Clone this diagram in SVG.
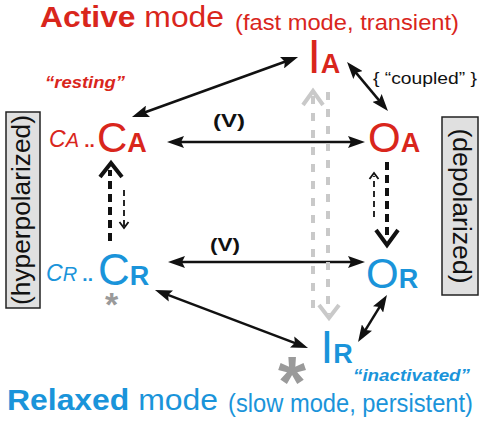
<svg xmlns="http://www.w3.org/2000/svg" width="490" height="423" viewBox="0 0 490 423">
<defs>
<style>
text{font-family:"Liberation Sans",Arial,sans-serif;}
.red{fill:#d9261c;}
.blue{fill:#1a94da;}
.big{font-size:42px;}
.bigI{font-size:48px;}
.sub{font-size:27px;font-weight:bold;}
.pre{font-style:italic;}
.conn{stroke:#111;stroke-width:2.5;fill:none;}
.thick{stroke:#111;stroke-width:4;fill:none;stroke-dasharray:8 5;}
.thin{stroke:#111;stroke-width:1.8;fill:none;stroke-dasharray:6 4;}
.chev{stroke:#111;fill:none;stroke-linejoin:miter;}
.gray{stroke:#c9c9c9;stroke-width:4;fill:none;stroke-dasharray:8 9;}
.graychev{stroke:#c9c9c9;stroke-width:4;fill:none;}
.box{fill:#e0e0e0;stroke:#222;stroke-width:1.5;}
.ast{fill:#9a9a9a;font-weight:bold;}
</style>
<marker id="ah" viewBox="0 0 17 12" markerWidth="17" markerHeight="12" refX="11" refY="6" markerUnits="userSpaceOnUse" orient="auto-start-reverse">
<path d="M0,0 L17,6 L0,12 L3,6 z" fill="#111"/>
</marker>
</defs>

<g id="title-active">
<text x="40" y="27" class="red" font-size="29" textLength="184" lengthAdjust="spacingAndGlyphs"><tspan font-weight="bold">Active</tspan> mode</text>
<text x="235" y="30" class="red" font-size="22" textLength="224" lengthAdjust="spacingAndGlyphs">(fast mode, transient)</text>
</g>
<g id="title-relaxed">
<text x="7" y="410" class="blue" font-size="30" textLength="211" lengthAdjust="spacingAndGlyphs"><tspan font-weight="bold">Relaxed</tspan> mode</text>
<text x="228" y="412" class="blue" font-size="25" textLength="245" lengthAdjust="spacingAndGlyphs">(slow mode, persistent)</text>
</g>

<g id="box-hyper">
<rect class="box" x="6" y="112" width="34" height="196"/>
<text transform="translate(30,210) rotate(-90)" text-anchor="middle" font-size="25" fill="#111" textLength="190" lengthAdjust="spacingAndGlyphs">(hyperpolarized)</text>
</g>
<g id="box-depol">
<rect class="box" x="442" y="117" width="36" height="178"/>
<text transform="translate(453,206) rotate(90)" text-anchor="middle" font-size="25" fill="#111" textLength="155" lengthAdjust="spacingAndGlyphs">(depolarized)</text>
</g>

<g id="connectors">
<line class="conn" x1="137.6" y1="115" x2="292.4" y2="59" marker-start="url(#ah)" marker-end="url(#ah)"/>
<line class="conn" x1="350.9" y1="66.6" x2="384.1" y2="106.4" marker-start="url(#ah)" marker-end="url(#ah)"/>
<line class="conn" x1="173" y1="142" x2="359" y2="142" marker-start="url(#ah)" marker-end="url(#ah)"/>
<line class="conn" x1="174" y1="262" x2="359" y2="262" marker-start="url(#ah)" marker-end="url(#ah)"/>
<line class="conn" x1="160.6" y1="292.1" x2="302.4" y2="345.9" marker-start="url(#ah)" marker-end="url(#ah)"/>
<line class="conn" x1="383.8" y1="300.1" x2="361.2" y2="336.9" marker-start="url(#ah)" marker-end="url(#ah)"/>
<line class="thick" x1="110" y1="241" x2="110" y2="170"/>
<polyline class="chev" stroke-width="4" points="100,177 111,163 122,177"/>
<line class="thin" x1="124" y1="190" x2="124" y2="226"/>
<polyline class="chev" stroke-width="1.8" points="119.5,222 124,228 128.5,222"/>
<line class="thick" x1="387" y1="162" x2="387" y2="238"/>
<polyline class="chev" stroke-width="4" points="376,230 387,245 398,230"/>
<line class="thin" x1="374" y1="217" x2="374" y2="176"/>
<polyline class="chev" stroke-width="1.8" points="369.5,179 374,173 378.5,179"/>
<line class="gray" x1="313" y1="96" x2="313" y2="312"/>
<polyline class="graychev" points="303,105 313,91 323,105"/>
<line class="gray" x1="328" y1="92" x2="328" y2="314"/>
<polyline class="graychev" points="319,305 329,318 339,305"/>
</g>

<g id="node-IA">
<text x="307.5" y="73" class="red"><tspan class="bigI">I</tspan><tspan class="sub">A</tspan></text>
</g>
<g id="node-CA">
<text x="49" y="147" class="red"><tspan class="pre" font-size="23">C</tspan><tspan class="pre" font-size="20">A</tspan><tspan font-size="19" font-weight="bold"> ..</tspan></text>
<text x="97" y="152" class="red"><tspan class="big">C</tspan><tspan class="sub" font-size="28">A</tspan></text>
<text x="45" y="88" class="red" font-size="17" font-weight="bold" font-style="italic" textLength="80" lengthAdjust="spacingAndGlyphs">“resting”</text>
</g>
<g id="node-OA">
<text x="368" y="152" class="red"><tspan class="big">O</tspan><tspan class="sub" font-size="28">A</tspan></text>
</g>
<g id="node-CR">
<text x="46" y="281" class="blue"><tspan class="pre" font-size="23">C</tspan><tspan class="pre" font-size="20">R</tspan><tspan font-size="19" font-weight="bold"> ..</tspan></text>
<text x="98" y="285" class="blue"><tspan font-size="44">C</tspan><tspan class="sub" font-size="25">R</tspan></text>
<text x="105" y="316" class="ast" font-size="34">*</text>
</g>
<g id="node-OR">
<text x="366" y="288" class="blue"><tspan class="big">O</tspan><tspan class="sub" font-size="26">R</tspan></text>
</g>
<g id="node-IR">
<text x="320.5" y="363" class="blue"><tspan font-size="46">I</tspan><tspan class="sub">R</tspan></text>
<text x="353" y="381" class="blue" font-size="16" font-weight="bold" font-style="italic" textLength="117" lengthAdjust="spacingAndGlyphs">“inactivated”</text>
<text x="278" y="407" class="ast" font-size="72">*</text>
</g>

<g id="labels">
<text x="373" y="84" font-size="17" fill="#111" textLength="104" lengthAdjust="spacingAndGlyphs">{ “coupled” }</text>
<text x="213" y="127" font-size="19" font-weight="bold" fill="#111" textLength="32" lengthAdjust="spacingAndGlyphs">(V)</text>
<text x="210" y="251" font-size="19" font-weight="bold" fill="#111" textLength="30" lengthAdjust="spacingAndGlyphs">(V)</text>
</g>
</svg>
